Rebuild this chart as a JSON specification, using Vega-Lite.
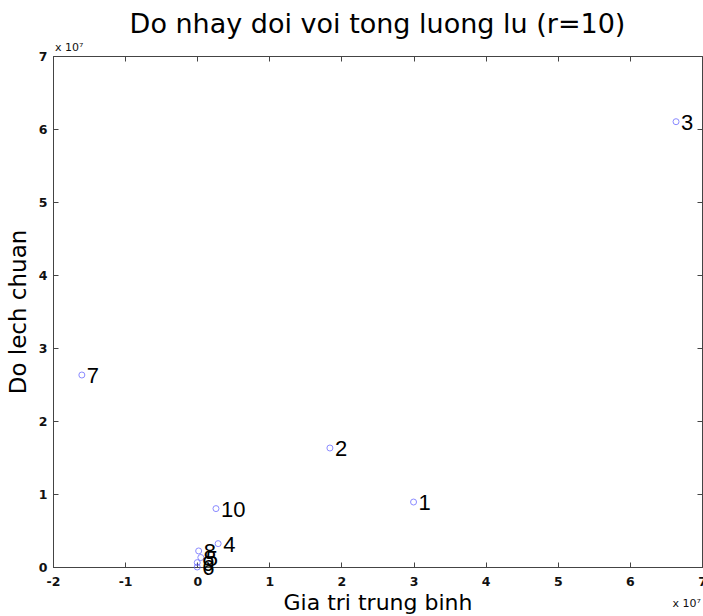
{
  "$schema": "https://vega.github.io/schema/vega-lite/v6.json",
  "autosize": "none",
  "width": 649,
  "height": 511,
  "padding": {"left": 53, "top": 56, "right": 1, "bottom": 49},
  "background": "white",
  "config": {
    "font": "DejaVu Sans",
    "view": {"stroke": "#444444", "strokeWidth": 1},
    "axis": {
      "grid": false,
      "domainColor": "#444444",
      "tickColor": "#444444",
      "tickSize": -5,
      "labelColor": "#111111",
      "labelFont": "DejaVu Sans",
      "labelFontSize": 12.5,
      "labelFontWeight": "bold",
      "titleFont": "DejaVu Sans",
      "titleFontWeight": "normal",
      "titleColor": "#000000",
      "titleFontSize": 22
    }
  },
  "title": {
    "text": "Do nhay doi voi tong luong lu (r=10)",
    "fontSize": 27,
    "fontWeight": "normal",
    "font": "DejaVu Sans",
    "color": "#000000",
    "anchor": "middle",
    "offset": 3
  },
  "data": {
    "values": [
      {"x": 30000000, "y": 8900000, "label": "1"},
      {"x": 18400000, "y": 16300000, "label": "2"},
      {"x": 66400000, "y": 61000000, "label": "3"},
      {"x": 2900000, "y": 3200000, "label": "4"},
      {"x": 500000, "y": 1300000, "label": "5"},
      {"x": 0, "y": 0, "label": "6"},
      {"x": -16000000, "y": 26300000, "label": "7"},
      {"x": 200000, "y": 2200000, "label": "8"},
      {"x": 0, "y": 600000, "label": "9"},
      {"x": 2600000, "y": 8000000, "label": "10"}
    ]
  },
  "layer": [
    {
      "mark": {"type": "point", "shape": "circle", "filled": false, "stroke": "#5a5aff", "strokeWidth": 1, "size": 36, "clip": false},
      "encoding": {
        "x": {"field": "x", "type": "quantitative", "scale": {"domain": [-20000000, 70000000], "nice": false, "zero": false},
          "axis": {"orient": "bottom", "values": [-20000000, -10000000, 0, 10000000, 20000000, 30000000, 40000000, 50000000, 60000000, 70000000], "labelExpr": "'' + round(datum.value/1e7)", "title": "Gia tri trung binh", "titlePadding": 5, "labelPadding": 13, "labelFlush": false, "labelOverlap": false}},
        "y": {"field": "y", "type": "quantitative", "scale": {"domain": [0, 70000000], "nice": false},
          "axis": {"orient": "left", "values": [0, 10000000, 20000000, 30000000, 40000000, 50000000, 60000000, 70000000], "labelExpr": "'' + round(datum.value/1e7)", "title": "Do lech chuan", "titleFontSize": 23, "titlePadding": 8, "labelPadding": 11, "labelOverlap": false}}
      }
    },
    {
      "mark": {"type": "text", "align": "left", "baseline": "middle", "dx": 5, "dy": 1, "fontSize": 22, "font": "Liberation Sans", "color": "#000000", "clip": false},
      "encoding": {
        "x": {"field": "x", "type": "quantitative", "axis": {"orient": "top", "labels": false, "title": null, "values": [-20000000, -10000000, 0, 10000000, 20000000, 30000000, 40000000, 50000000, 60000000, 70000000], "domain": false}},
        "y": {"field": "y", "type": "quantitative", "axis": {"orient": "right", "labels": false, "title": null, "values": [0, 10000000, 20000000, 30000000, 40000000, 50000000, 60000000, 70000000], "domain": false}},
        "text": {"field": "label"}
      }
    },
    {
      "data": {"values": [{"x": -20000000, "y": 70000000, "t": "x 10⁷"}]},
      "mark": {"type": "text", "align": "left", "baseline": "bottom", "dx": 2, "dy": -3, "fontSize": 11, "font": "DejaVu Sans", "color": "#111111", "clip": false},
      "encoding": {
        "x": {"field": "x", "type": "quantitative", "axis": null},
        "y": {"field": "y", "type": "quantitative", "axis": null},
        "text": {"field": "t"}
      }
    },
    {
      "data": {"values": [{"x": 70000000, "y": 0, "t": "x 10⁷"}]},
      "mark": {"type": "text", "align": "right", "baseline": "middle", "dx": -1, "dy": 37, "fontSize": 11, "font": "DejaVu Sans", "color": "#111111", "clip": false},
      "encoding": {
        "x": {"field": "x", "type": "quantitative", "axis": null},
        "y": {"field": "y", "type": "quantitative", "axis": null},
        "text": {"field": "t"}
      }
    }
  ],
  "resolve": {"axis": {"x": "independent", "y": "independent"}}
}
